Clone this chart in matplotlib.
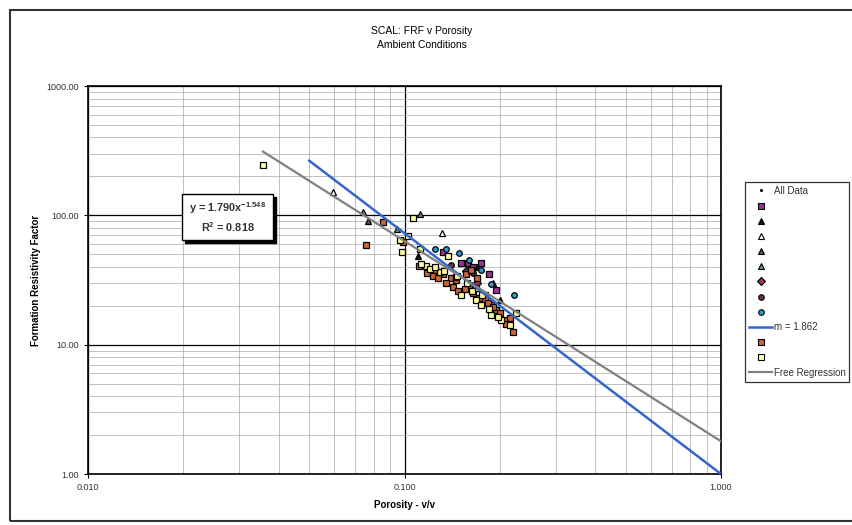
"""SCAL: FRF v Porosity - log-log crossplot with regression lines."""
import matplotlib
matplotlib.use("Agg")
import matplotlib.pyplot as plt
from matplotlib.lines import Line2D
from matplotlib.patches import Rectangle
from matplotlib.ticker import FuncFormatter, NullFormatter
import numpy as np

plt.rcParams['font.family'] = ['Liberation Sans', 'DejaVu Sans']

# ---- data (porosity v/v, formation resistivity factor) ----
yellow_x = [0.0357, 0.1064, 0.0968, 0.1023, 0.0980, 0.1120, 0.1172, 0.1206, 0.1298,
            0.1370, 0.1450, 0.1505, 0.1681, 0.1681, 0.1744, 0.1878, 0.2021, 0.2258,
            0.1130, 0.1250, 0.1330, 0.1470, 0.1580, 0.1630, 0.1760, 0.1850, 0.1970, 0.2150]
yellow_y = [244, 94.8, 64.0, 68.7, 51.7, 55.0, 40.3, 38.5, 36.5,
            48.1, 33.5, 24.4, 27.5, 22.3, 20.4, 17.1, 15.6, 17.5,
            42.0, 40.0, 37.0, 34.0, 30.0, 26.0, 24.0, 19.0, 16.5, 14.2]
brown_x = [0.0755, 0.0855, 0.0986, 0.1110, 0.1252, 0.1320, 0.1400, 0.1450, 0.1561,
           0.1620, 0.1700, 0.1600, 0.1800, 0.1878, 0.1948, 0.2097, 0.2202, 0.2150,
           0.1180, 0.1230, 0.1280, 0.1350, 0.1420, 0.1480, 0.1550, 0.1650, 0.1720,
           0.1830, 0.1900, 0.2000, 0.2100]
brown_y = [58.5, 88.3, 61.8, 40.5, 38.0, 35.0, 33.0, 31.9, 34.9,
           38.1, 33.0, 29.0, 22.5, 20.4, 18.7, 15.6, 12.6, 16.0,
           36.0, 34.0, 32.5, 30.0, 28.0, 26.0, 27.0, 25.0, 23.0,
           21.0, 19.5, 17.5, 14.5]
purple_x = [0.1328, 0.1505, 0.1586, 0.1744, 0.1948, 0.1790, 0.1850, 0.1650]
purple_y = [52.5, 42.5, 42.5, 42.5, 26.7, 24.0, 35.0, 40.0]
tri_black_x = [0.1102, 0.1700, 0.2000]
tri_black_y = [48.1, 40.0, 22.0]
tri_open_x = [0.0594, 0.1313]
tri_open_y = [151, 72.5]
tri_dark_x = [0.0765, 0.1900]
tri_dark_y = [89.8, 30.0]
tri_green_x = [0.0740, 0.0946, 0.1120]
tri_green_y = [107, 77.9, 102]
diamond_x = [0.1560, 0.1700]
diamond_y = [37.0, 30.0]
circle_x = [0.1400, 0.1650]
circle_y = [41.0, 36.0]
teal_x = [0.1248, 0.1486, 0.1880, 0.2225, 0.1600, 0.1750, 0.1350]
teal_y = [54.5, 50.8, 29.2, 24.4, 45.0, 38.0, 55.0]

# fixed-exponent line (a=1, m=1.862) and free regression (1.790 x^-1.548)
m_fixed = 1.862
fixed_x = [0.05, 1.0]
free_a, free_b = 1.790, 1.548
free_x = [0.0357, 1.0]

series = [
    (purple_x, purple_y, 's', '#993399'),
    (tri_black_x, tri_black_y, '^', '#111111'),
    (tri_open_x, tri_open_y, '^', 'white'),
    (tri_dark_x, tri_dark_y, '^', '#555555'),
    (tri_green_x, tri_green_y, '^', '#669966'),
    (diamond_x, diamond_y, 'D', '#993366'),
    (circle_x, circle_y, 'o', '#663333'),
    (teal_x, teal_y, 'o', '#3399CC'),
    (brown_x, brown_y, 's', '#CC6633'),
    (yellow_x, yellow_y, 's', '#FFFF99'),
]

fig = plt.figure(figsize=(8.52, 5.25), dpi=100)
W, H = 852, 525

# chart-area border
fig.patches.append(Rectangle((10 / W, 4 / H), 870 / W, 511 / H, transform=fig.transFigure,
                             fill=False, edgecolor='#333333', lw=1.5))

ax = fig.add_axes([88 / W, 1 - 474 / H, (721 - 88) / W, (474 - 86) / H])
ax.set_xscale('log')
ax.set_yscale('log')
ax.set_xlim(0.01, 1.0)
ax.set_ylim(1, 1000)

ax.grid(which='major', color='black', lw=0.9)
ax.grid(which='minor', color='#a8a8a8', lw=0.5)
ax.set_axisbelow(True)

ax.xaxis.set_major_formatter(FuncFormatter(lambda v, p: f'{v:.3f}'))
ax.yaxis.set_major_formatter(FuncFormatter(lambda v, p: f'{v:.2f}'))
ax.xaxis.set_minor_formatter(NullFormatter())
ax.yaxis.set_minor_formatter(NullFormatter())
ax.tick_params(which='major', length=3, width=0.8, labelsize=6.5, colors='black',
               labelcolor='#333333', direction='out')
ax.tick_params(which='minor', length=0)
for s in ax.spines.values():
    s.set_linewidth(1.2)

# all data (tiny black dots underneath)
all_x = np.concatenate([s[0] for s in series])
all_y = np.concatenate([s[1] for s in series])
ax.plot(all_x, all_y, '.', color='black', ms=1.5, zorder=2)

for xs, ys, mk, col in series:
    ms = 4.3 if mk == 's' else 4.0
    ax.plot(xs, ys, ls='none', marker=mk, mfc=col, mec='black', mew=0.9, ms=ms, zorder=3)

fx = np.array(fixed_x)
ax.plot(fx, fx ** -m_fixed, color='#3366CC', lw=1.8, zorder=4)
gx = np.array(free_x)
ax.plot(gx, free_a * gx ** -free_b, color='#808080', lw=1.6, zorder=4)

ax.set_xlabel('Porosity - v/v', fontsize=7, fontweight='bold', labelpad=6)
ax.set_ylabel('Formation Resistivity Factor', fontsize=7, fontweight='bold', labelpad=4)

fig.text(422 / W, 1 - 31 / H, 'SCAL: FRF v Porosity', ha='center', va='center', fontsize=7.5)
fig.text(422 / W, 1 - 45 / H, 'Ambient Conditions', ha='center', va='center', fontsize=7.5)

# equation box with shadow
bx0, by0, bx1, by1 = 182, 194, 273, 240
fig.patches.append(Rectangle(((bx0 + 3) / W, 1 - (by1 + 3) / H), (bx1 - bx0) / W, (by1 - by0) / H,
                             transform=fig.transFigure, facecolor='black', edgecolor='black', zorder=5))
fig.patches.append(Rectangle((bx0 / W, 1 - by1 / H), (bx1 - bx0) / W, (by1 - by0) / H,
                             transform=fig.transFigure, facecolor='white', edgecolor='black', lw=1.0, zorder=6))
fig.text(228 / W, 1 - 208 / H, r'y = 1.790x$^{\mathregular{-1.548}}$', ha='center', va='center',
         fontsize=7.8, color='#333333', fontweight='bold', zorder=7)
fig.text(228 / W, 1 - 227 / H, r'R$^{\mathregular{2}}$ = 0.818', ha='center', va='center',
         fontsize=7.8, color='#333333', fontweight='bold', zorder=7)

# legend
handles = [Line2D([], [], ls='none', marker='.', color='black', ms=2.5)]
labels = ['All Data']
for xs, ys, mk, col in series[:8]:
    handles.append(Line2D([], [], ls='none', marker=mk, mfc=col, mec='black', mew=0.8, ms=4))
    labels.append('')
handles.append(Line2D([], [], color='#3366CC', lw=1.8))
labels.append(f'm = {m_fixed:.3f}')
for xs, ys, mk, col in series[8:]:
    handles.append(Line2D([], [], ls='none', marker=mk, mfc=col, mec='black', mew=0.8, ms=4))
    labels.append('')
handles.append(Line2D([], [], color='#808080', lw=1.6))
labels.append('Free Regression')

leg = fig.legend(handles, labels, loc='upper left', bbox_to_anchor=(745 / W, 1 - 182 / H),
                 bbox_transform=fig.transFigure, fontsize=7, frameon=True, fancybox=False,
                 edgecolor='black', handlelength=2.4, handletextpad=0.15, borderpad=0.4,
                 labelspacing=0.53, borderaxespad=0)
leg.get_frame().set_linewidth(0.9)
for t in leg.get_texts():
    t.set_color('#333333')

fig.savefig('out.png', dpi=100)
